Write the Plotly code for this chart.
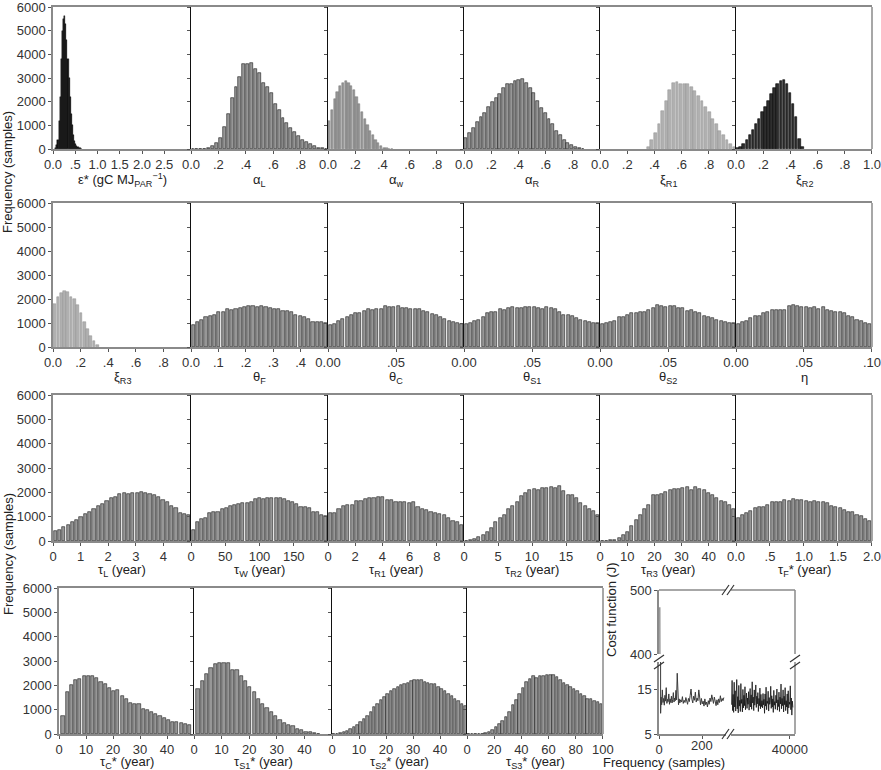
import plotly.graph_objects as go

W, H = 881, 770

# ---------------- data (bin start, bin width, counts) ----------------
eps_lo, eps_bw = 0.05, 0.025
eps_counts = [50, 150, 400, 1200, 2200, 3800, 5000, 5500, 5600, 5300, 4600, 3800, 3000, 2200,
              1500, 1000, 600, 350, 220, 130, 80, 50, 30, 15]

aL_lo, aL_bw = 0.0, 1 / 35
aL_counts = [0, 0, 0, 10, 40, 120, 250, 450, 950, 1500, 2150, 2600, 3050, 3600, 3600, 3650, 3400,
             3200, 2800, 2600, 2350, 1900, 1650, 1300, 1100, 900, 700, 550, 400, 300, 200, 120, 60, 30, 0]

aw_lo, aw_bw = 0.0, 0.02
aw_counts = [1200, 1650, 2100, 2400, 2650, 2800, 2870, 2800, 2650, 2480, 2200, 1900, 1580, 1280,
             1000, 750, 580, 380, 240, 130, 60, 30, 15, 5]

aR_lo, aR_bw = 0.0, 1 / 36
aR_counts = [485, 680, 890, 1140, 1340, 1510, 1790, 1970, 2170, 2340, 2560, 2730, 2760, 2870, 2900,
             2940, 2800, 2590, 2380, 2040, 1730, 1510, 1270, 1040, 760, 580, 400, 260, 165, 100, 55, 20]

xR1_lo, xR1_bw = 13 / 38, 1 / 38
xR1_counts = [100, 370, 680, 1070, 1620, 2040, 2480, 2800, 2840, 2760, 2760, 2760, 2620, 2450, 2240,
              2040, 1790, 1550, 1270, 1040, 760, 580, 370, 210, 100]

xR2_lo, xR2_bw = 0.0, 1 / 44
xR2_counts = [30, 100, 210, 370, 580, 790, 1040, 1270, 1550, 1790, 2040, 2310, 2560, 2730, 2870, 2900,
              2760, 2380, 1900, 1340, 440, 100]

xR3_lo, xR3_bw = 0.0, 1 / 42
xR3_counts = [1800, 2080, 2250, 2350, 2280, 2080, 2000, 1760, 1420, 1030, 750, 470, 240, 100]

thF_lo, thF_bw = 0.0, 0.5 / 32
thF_counts = [920, 1060, 1110, 1250, 1300, 1320, 1440, 1470, 1570, 1530, 1570, 1640, 1650, 1700, 1690,
              1650, 1700, 1660, 1640, 1600, 1580, 1520, 1500, 1440, 1320, 1300, 1250, 1150, 1060, 1030,
              1040, 1000]

thC_lo, thC_bw = 0.0, 0.1 / 32
thC_counts = [920, 950, 1100, 1150, 1250, 1320, 1400, 1400, 1500, 1600, 1560, 1600, 1600, 1700, 1680,
              1650, 1720, 1620, 1620, 1600, 1600, 1570, 1500, 1450, 1380, 1330, 1250, 1150, 1100, 1050,
              1000, 970]

thS1_lo, thS1_bw = 0.0, 0.1 / 32
thS1_counts = [960, 1000, 1070, 1110, 1250, 1420, 1450, 1450, 1580, 1560, 1620, 1650, 1620, 1620, 1660,
               1680, 1680, 1610, 1580, 1680, 1610, 1580, 1460, 1350, 1350, 1280, 1210, 1140, 1100, 1040,
               1000, 980]

thS2_lo, thS2_bw = 0.0, 0.1 / 32
thS2_counts = [960, 1000, 1030, 1100, 1240, 1240, 1330, 1420, 1420, 1470, 1470, 1550, 1620, 1730, 1710,
               1660, 1690, 1690, 1620, 1620, 1490, 1530, 1460, 1420, 1280, 1250, 1210, 1140, 1100, 1050,
               1000, 1000]

eta_lo, eta_bw = 0.0, 0.1 / 32
eta_counts = [960, 1030, 1100, 1190, 1280, 1310, 1420, 1450, 1530, 1560, 1560, 1530, 1690, 1750, 1690,
              1660, 1660, 1620, 1660, 1580, 1650, 1530, 1490, 1450, 1450, 1400, 1310, 1240, 1110, 1100,
              1000, 970]

tL_lo, tL_bw = 0.0, 5 / 32
tL_counts = [400, 440, 560, 650, 800, 860, 980, 1130, 1180, 1310, 1420, 1520, 1640, 1760, 1800, 1920,
             1960, 1920, 1960, 1990, 2010, 1960, 1950, 1900, 1800, 1700, 1600, 1420, 1350, 1150, 1100, 1060]

tW_lo, tW_bw = 0.0, 200 / 33
tW_counts = [470, 800, 900, 930, 1160, 1200, 1200, 1320, 1340, 1450, 1480, 1520, 1550, 1580, 1590,
             1710, 1750, 1730, 1780, 1750, 1750, 1750, 1710, 1640, 1620, 1520, 1410, 1380, 1340, 1200,
             1180, 1070, 1030]

tR1_lo, tR1_bw = 0.0, 10 / 31
tR1_counts = [1140, 1160, 1310, 1450, 1470, 1480, 1640, 1640, 1710, 1780, 1780, 1800, 1790, 1670, 1690,
              1620, 1620, 1620, 1550, 1590, 1380, 1310, 1270, 1200, 1140, 1100, 1070, 940, 830, 790, 650]

tR2_lo, tR2_bw = 0.0, 20 / 32
tR2_counts = [0, 40, 80, 170, 260, 370, 540, 780, 930, 1070, 1300, 1440, 1620, 1850, 1990, 2100, 2120,
              2100, 2160, 2190, 2210, 2160, 2260, 2050, 1890, 1890, 1780, 1550, 1450, 1300, 1250, 1070]

tR3_lo, tR3_bw = 0.0, 50 / 32
tR3_counts = [10, 15, 30, 60, 120, 250, 380, 600, 850, 1050, 1300, 1500, 1900, 1880, 1950, 2020, 2080,
              2150, 2120, 2180, 2210, 2100, 2200, 2120, 2080, 1980, 1900, 1780, 1650, 1600, 1480, 1300]

tF_lo, tF_bw = 0.0, 2 / 32
tF_counts = [960, 1070, 1160, 1230, 1340, 1380, 1380, 1480, 1620, 1590, 1590, 1670, 1640, 1710, 1690,
             1690, 1640, 1620, 1640, 1590, 1590, 1550, 1440, 1380, 1340, 1270, 1180, 1200, 1070, 1040,
             900, 830]

tC_lo, tC_bw = 0.7, 50 / 32
tC_counts = [730, 1730, 2000, 2200, 2270, 2370, 2370, 2380, 2320, 2150, 2070, 1900, 1770, 1800, 1550,
             1450, 1270, 1250, 1220, 1040, 970, 900, 810, 740, 670, 560, 490, 490, 470, 400, 360]

tS1_lo, tS1_bw = 0.7, 50 / 32
tS1_counts = [1860, 2160, 2480, 2730, 2860, 2930, 2920, 2900, 2640, 2640, 2370, 2160, 1930, 1730, 1450,
              1250, 1080, 900, 730, 590, 450, 360, 330, 190, 150, 100, 70, 40, 15]

tS2_lo, tS2_bw = 0.0, 1.25
tS2_counts = [10, 20, 40, 70, 120, 200, 290, 380, 490, 600, 760, 920, 1100, 1250, 1380, 1530, 1650, 1750,
              1850, 1930, 2000, 2060, 2100, 2160, 2210, 2200, 2230, 2150, 2110, 2070, 2040, 1940, 1850,
              1750, 1660, 1550, 1450, 1350, 1220, 1150]

tS3_lo, tS3_bw = 0.0, 2.5
tS3_counts = [0, 0, 0, 10, 20, 50, 100, 170, 280, 400, 550, 700, 900, 1180, 1380, 1630, 1900, 2150, 2280,
              2370, 2320, 2380, 2400, 2420, 2440, 2430, 2330, 2200, 2080, 2010, 1930, 1850, 1750, 1650,
              1560, 1430, 1420, 1350, 1300, 1250]

freq_ticks = [0, 1000, 2000, 3000, 4000, 5000, 6000]

# cost function trace (sample index, J)
cost_left_x = [3, 7, 9, 12, 15, 18, 21, 24, 27, 30, 33, 36, 39, 42, 45, 48, 51, 54, 57, 60, 63, 66, 69,
               72, 75, 78, 81, 84, 87, 90, 93, 96, 100, 104, 108, 112, 116, 120, 124, 128, 132, 136,
               140, 144, 148, 152, 156, 160, 164, 168, 172, 176, 180, 184, 188, 192, 196, 200, 204,
               208, 212, 216, 220, 224, 228, 232, 236, 240, 244, 248, 252, 256, 260, 264, 268, 272,
               276, 280, 284, 288, 292, 296, 300]
cost_left_y = [473, 9.6, 13.2, 11.5, 14.8, 12.0, 12.9, 11.4, 13.6, 12.3, 15.3, 11.8, 12.7, 12.2, 13.9,
               11.6, 12.8, 12.0, 13.4, 11.9, 12.6, 14.2, 12.1, 13.0, 12.4, 14.7, 12.6, 18.5, 12.3, 11.5,
               12.8, 11.9, 12.6, 12.1, 13.3, 11.8, 12.5, 12.0, 13.1, 12.3, 11.6, 12.9, 12.2, 13.6, 15.0,
               12.7, 11.9, 13.4, 12.5, 14.3, 12.1, 13.0, 12.4, 14.8, 12.6, 11.5, 12.9, 11.7, 12.3, 11.2,
               12.8, 11.5, 12.1, 11.0, 12.4, 11.6, 13.0, 12.2, 13.7, 12.5, 11.8, 13.2, 12.4, 11.3, 12.6,
               11.5, 12.8, 12.0, 13.5, 12.2, 12.9, 12.4, 13.1]
cost_right_y = [11.5, 16.9, 10.2, 13.8, 9.8, 16.5, 11.0, 14.6, 10.1, 12.9, 17.1, 10.6, 13.3, 9.7, 15.8,
                11.2, 12.5, 10.0, 16.2, 11.8, 12.7, 9.9, 14.9, 10.8, 13.6, 11.3, 15.5, 10.4, 12.2, 14.1,
                10.7, 13.0, 11.6, 14.4, 10.3, 12.8, 15.1, 11.0, 13.7, 10.5, 16.6, 11.9, 13.2, 10.2, 14.8,
                11.4, 12.6, 15.9, 10.9, 13.4, 11.7, 14.2, 10.0, 12.9, 11.3, 15.2, 10.6, 13.8, 11.1, 12.4,
                10.8, 14.0, 11.5, 12.7, 9.6, 13.9, 11.2, 15.4, 10.4, 12.3, 11.8, 14.5, 10.1, 13.1, 11.6,
                12.0, 15.6, 10.7, 13.5, 11.0, 12.8, 9.8, 14.7, 11.4, 12.2, 10.5, 13.6, 11.9, 15.0, 10.3,
                12.6, 11.1, 14.3, 10.0, 13.2, 11.7, 16.1, 10.6, 12.9, 11.3, 14.8, 9.9, 13.4, 11.5, 15.3,
                10.2, 12.4, 11.0, 13.9, 9.5, 14.6, 10.8, 12.1, 11.6, 15.7, 10.4, 13.0, 9.2, 12.3, 10.9]
cost_right_first, cost_right_step = 400, 350
cost_right_x = [cost_right_first + i * cost_right_step for i in range(len(cost_right_y))]
cost_left_ticks = [0, 200]
cost_right_ticks = [40000]

# ---------------- styling / layout ----------------
FONT = "Liberation Sans, Arial, Helvetica, sans-serif"
TICKFONT = dict(family=FONT, size=13, color="#333")
TITLEFONT = dict(family=FONT, size=13, color="#222")

STYLES = {
    "black": ("#151515", "#000000", 1.0, 0.4),
    "dark": ("#2e2e2e", "#000000", 0.8, 0.6),
    "mid": ("#979797", "#1a1a1a", 0.74, 0.6),
    "soft": ("#959595", "#777777", 0.82, 0.5),
    "light": ("#b0b0b0", "#8f8f8f", 0.8, 0.5),
}

ROW_X = [53, 191, 328, 464, 600, 736, 872]
ROW4_X = [59, 194, 332, 467, 603]
ROW_Y = [(7, 149), (203, 347), (395, 541), (588, 734)]
TITLE_SHIFT = [-31, -30, -29, -28]

T01 = ([0, 0.2, 0.4, 0.6, 0.8], ["0.0", ".2", ".4", ".6", ".8"])
T005 = ([0, 0.05], ["0.00", ".05"])
T50 = ([0, 10, 20, 30, 40], ["0", "10", "20", "30", "40"])

panels = [
    # row 1
    [("ε* (gC MJ<sub>PAR</sub><sup>−1</sup>)", [0, 3.1], ([0, .5, 1, 1.5, 2, 2.5], ["0.0", ".5", "1.0", "1.5", "2.0", "2.5"]), eps_lo, eps_bw, eps_counts, "black"),
     ("α<sub>L</sub>", [0, 1], T01, aL_lo, aL_bw, aL_counts, "mid"),
     ("α<sub>w</sub>", [0, 1], T01, aw_lo, aw_bw, aw_counts, "soft"),
     ("α<sub>R</sub>", [0, 1], T01, aR_lo, aR_bw, aR_counts, "mid"),
     ("ξ<sub>R1</sub>", [0, 1], T01, xR1_lo, xR1_bw, xR1_counts, "light"),
     ("ξ<sub>R2</sub>", [0, 1.0005], ([0, .2, .4, .6, .8, 1.0], ["0.0", ".2", ".4", ".6", ".8", "1.0"]), xR2_lo, xR2_bw, xR2_counts, "dark")],
    # row 2
    [("ξ<sub>R3</sub>", [0, 1], T01, xR3_lo, xR3_bw, xR3_counts, "light"),
     ("θ<sub>F</sub>", [0, 0.5], ([0, .1, .2, .3, .4], ["0.0", ".1", ".2", ".3", ".4"]), thF_lo, thF_bw, thF_counts, "mid"),
     ("θ<sub>C</sub>", [0, 0.1], T005, thC_lo, thC_bw, thC_counts, "mid"),
     ("θ<sub>S1</sub>", [0, 0.1], T005, thS1_lo, thS1_bw, thS1_counts, "mid"),
     ("θ<sub>S2</sub>", [0, 0.1], T005, thS2_lo, thS2_bw, thS2_counts, "mid"),
     ("η", [0, 0.10005], ([0, 0.05, 0.1], ["0.00", ".05", ".10"]), eta_lo, eta_bw, eta_counts, "mid")],
    # row 3
    [("τ<sub>L</sub> (year)", [0, 5], ([0, 1, 2, 3, 4], ["0", "1", "2", "3", "4"]), tL_lo, tL_bw, tL_counts, "mid"),
     ("τ<sub>W</sub> (year)", [0, 200], ([0, 50, 100, 150], ["0", "50", "100", "150"]), tW_lo, tW_bw, tW_counts, "mid"),
     ("τ<sub>R1</sub> (year)", [0, 10], ([0, 2, 4, 6, 8], ["0", "2", "4", "6", "8"]), tR1_lo, tR1_bw, tR1_counts, "mid"),
     ("τ<sub>R2</sub> (year)", [0, 20], ([0, 5, 10, 15], ["0", "5", "10", "15"]), tR2_lo, tR2_bw, tR2_counts, "mid"),
     ("τ<sub>R3</sub> (year)", [0, 50], T50, tR3_lo, tR3_bw, tR3_counts, "mid"),
     ("τ<sub>F</sub>* (year)", [0, 2.001], ([0, .5, 1, 1.5, 2], ["0.0", ".5", "1.0", "1.5", "2.0"]), tF_lo, tF_bw, tF_counts, "mid")],
    # row 4
    [("τ<sub>C</sub>* (year)", [0, 50], T50, tC_lo, tC_bw, tC_counts, "mid"),
     ("τ<sub>S1</sub>* (year)", [0, 50], T50, tS1_lo, tS1_bw, tS1_counts, "mid"),
     ("τ<sub>S2</sub>* (year)", [0, 50], T50, tS2_lo, tS2_bw, tS2_counts, "mid"),
     ("τ<sub>S3</sub>* (year)", [0, 100.05], ([0, 20, 40, 60, 80, 100], ["0", "20", "40", "60", "80", "100"]), tS3_lo, tS3_bw, tS3_counts, "mid")],
]

fig = go.Figure()
layout = {}
annotations = []
shapes = []
counters = {"x": 0, "y": 0}


def new_axis(kind):
    counters[kind] += 1
    n = counters[kind]
    return (f"{kind}axis" if n == 1 else f"{kind}axis{n}"), (kind if n == 1 else f"{kind}{n}")


def base_axis(**kw):
    d = dict(showgrid=False, zeroline=False, fixedrange=True, tickfont=TICKFONT,
             ticks="outside", ticklen=3, tickcolor="#555", tickwidth=1, automargin=False)
    d.update(kw)
    return d


for r, row in enumerate(panels):
    xs = ROW4_X if r == 3 else ROW_X
    y0, y1 = ROW_Y[r]
    for c, (title, xrange, (tv, tt), lo, bw, counts, style) in enumerate(row):
        first = c == 0
        last = c == len(row) - 1
        xname, xref = new_axis("x")
        yname, yref = new_axis("y")
        fill, lc, frac, lw = STYLES[style]
        centers = [lo + (k + 0.5) * bw for k in range(len(counts))]
        fig.add_trace(go.Bar(x=centers, y=counts, width=bw * frac,
                             marker=dict(color=fill, line=dict(color=lc, width=lw)),
                             xaxis=xref, yaxis=yref, showlegend=False, hoverinfo="skip"))
        layout[xname] = base_axis(domain=[xs[c] / W, xs[c + 1] / W], range=xrange, anchor=yref,
                                  showline=True, linecolor="#8a8a8a", linewidth=1.5, mirror=True,
                                  tickvals=tv, ticktext=tt, ticklabeloverflow="allow")
        layout[yname] = base_axis(domain=[1 - y1 / H, 1 - y0 / H], range=[0, 6000.5], anchor=xref,
                                  showline=True, linecolor="#8a8a8a" if first else "#111",
                                  linewidth=1.5 if first else 1, tickvals=freq_ticks,
                                  showticklabels=first, ticklabeloverflow="allow")
        if last:
            shapes.append(dict(type="line", xref=f"{xref} domain", yref=f"{yref} domain",
                               x0=1, x1=1, y0=0, y1=1, line=dict(color="#8a8a8a", width=1.5)))
        annotations.append(dict(text=title, xref=f"{xref} domain", yref=f"{yref} domain",
                                x=0.5, y=0, yshift=TITLE_SHIFT[r], yanchor="middle", showarrow=False,
                                font=TITLEFONT))

# y labels "Frequency (samples)"
for yy in (172, 554):
    annotations.append(dict(text="Frequency (samples)", xref="paper", yref="paper", x=8 / W,
                            y=1 - yy / H, textangle=-90, showarrow=False, font=TITLEFONT,
                            xanchor="center", yanchor="middle"))

# ---------------- cost function panel (broken axes) ----------------
xLn, xL = new_axis("x")
xRn, xR = new_axis("x")
yLon, yLo = new_axis("y")
yUpn, yUp = new_axis("y")

layout[xLn] = base_axis(domain=[659 / W, 726 / W], range=[-0.5, 310], anchor=yLo, showline=True,
                        linecolor="#8a8a8a", linewidth=1.5, tickmode="array",
                        tickvals=cost_left_ticks, ticktext=["0", ""],
                        ticklabeloverflow="allow")
layout[xRn] = base_axis(domain=[731 / W, 795 / W], range=[0, 43500], anchor=yLo, showline=True,
                        linecolor="#8a8a8a", linewidth=1.5, tickmode="array",
                        tickvals=cost_right_ticks, ticktext=[str(v) for v in cost_right_ticks],
                        ticklabeloverflow="allow")
layout[yLon] = base_axis(domain=[1 - 734 / H, 1 - 662 / H], range=[5, 21], anchor=xL, showline=True,
                         linecolor="#8a8a8a", linewidth=1.5, tickvals=[5, 15], ticktext=["5", "15"])
layout[yUpn] = base_axis(domain=[1 - 654 / H, 1 - 590 / H], range=[400, 500.1], anchor=xL, showline=True,
                         linecolor="#8a8a8a", linewidth=1.5, tickvals=[400, 500], ticktext=["400", "500"])

# tick label "200" placed at its data position on the left x segment
annotations.append(dict(text=str(cost_left_ticks[1]), xref=xL, yref=f"{yLo} domain", x=cost_left_ticks[1],
                        y=0, yshift=-11, yanchor="middle", xanchor="center", showarrow=False,
                        font=TICKFONT))

fig.add_trace(go.Scatter(x=cost_left_x, y=cost_left_y, mode="lines", line=dict(color="#3a3a3a", width=1),
                         xaxis=xL, yaxis=yLo, showlegend=False, hoverinfo="skip"))
fig.add_trace(go.Scatter(x=cost_left_x, y=cost_left_y, mode="lines", line=dict(color="#999999", width=1.5),
                         xaxis=xL, yaxis=yUp, showlegend=False, hoverinfo="skip"))
fig.add_trace(go.Scatter(x=cost_right_x, y=cost_right_y, mode="lines", line=dict(color="#111111", width=0.8),
                         xaxis=xR, yaxis=yLo, showlegend=False, hoverinfo="skip"))

# borders of the broken box (top and right)
for xr_ in (xL, xR):
    shapes.append(dict(type="line", xref=f"{xr_} domain", yref=f"{yUp} domain", x0=0, x1=1, y0=1, y1=1,
                       line=dict(color="#8a8a8a", width=1.5)))
for yr_ in (yLo, yUp):
    shapes.append(dict(type="line", xref=f"{xR} domain", yref=f"{yr_} domain", x0=1, x1=1, y0=0, y1=1,
                       line=dict(color="#8a8a8a", width=1.5)))

# break marks "//"
def slash(px0, py0, px1, py1):
    shapes.append(dict(type="line", xref="paper", yref="paper", x0=px0 / W, y0=1 - py0 / H,
                       x1=px1 / W, y1=1 - py1 / H, line=dict(color="#333", width=1.2)))

for dx in (0, 5):
    slash(722 + dx, 595, 729 + dx, 585)   # top
    slash(722 + dx, 739, 729 + dx, 729)   # bottom
for dy in (0, 7):
    slash(654, 662 + dy, 664, 655 + dy)   # left
    slash(790, 662 + dy, 800, 655 + dy)   # right

annotations.append(dict(text="Cost function (J)", xref="paper", yref="paper", x=621 / W, y=1 - 659 / H,
                        textangle=-90, showarrow=False, font=TITLEFONT))
annotations.append(dict(text="Frequency (samples)", xref="paper", yref="paper", x=727 / W, y=1 - 762 / H,
                        showarrow=False, font=TITLEFONT, yanchor="middle"))

fig.update_layout(
    width=W, height=H, autosize=False,
    margin=dict(l=0, r=0, t=0, b=0, pad=0, autoexpand=False),
    paper_bgcolor="white", plot_bgcolor="white",
    bargap=0, showlegend=False,
    annotations=annotations, shapes=shapes,
    **layout,
)
fig.write_html("out.html", config={"displayModeBar": False},
               post_script="document.body.style.margin='0';document.body.style.overflow='hidden';")
